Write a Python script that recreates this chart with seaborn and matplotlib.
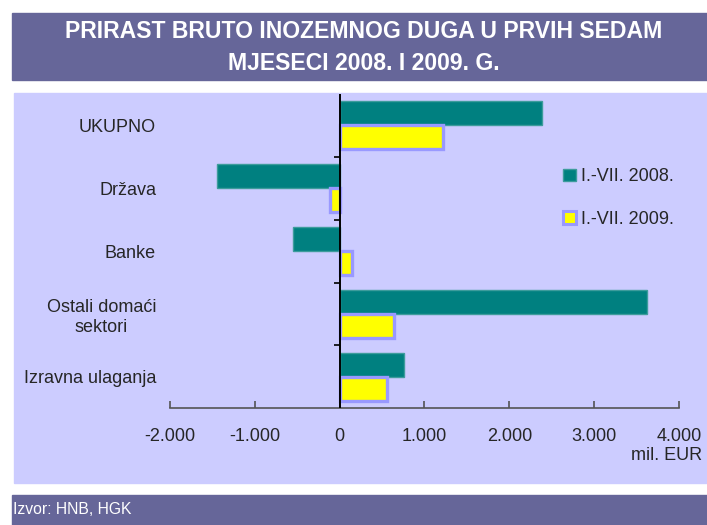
import pandas as pd
import matplotlib
matplotlib.use("Agg")
import matplotlib.pyplot as plt
import seaborn as sns
from matplotlib.patches import Rectangle, Patch

sns.set_style("white")
plt.rcParams['font.family'] = ['Liberation Sans', 'DejaVu Sans']

# Data (mil. EUR)
categories = ['UKUPNO', 'Država', 'Banke', 'Ostali domaći\nsektori', 'Izravna ulaganja']
series = ['I.-VII. 2008.', 'I.-VII. 2009.']
values_2008 = [2390, -1450, -545, 3620, 760]
values_2009 = [1220, -110, 145, 645, 560]
x_ticks = [-2000, -1000, 0, 1000, 2000, 3000, 4000]
x_tick_labels = ['-2.000', '-1.000', '0', '1.000', '2.000', '3.000', '4.000']

df = pd.DataFrame({
    'kategorija': categories * 2,
    'period': [series[0]] * len(categories) + [series[1]] * len(categories),
    'vrijednost': values_2008 + values_2009,
})

teal = '#008080'
yellow = '#FFFF00'
panel = '#CCCCFF'
band = '#666699'

fig = plt.figure(figsize=(7.07, 5.25), dpi=100)
fig.patch.set_facecolor('white')

# background bands (behind the axes)
fig.patches.append(Rectangle((12 / 707, 1 - 80 / 525), 1, 67 / 525,
                             transform=fig.transFigure, color=band, zorder=-2))
fig.patches.append(Rectangle((14 / 707, 1 - 483 / 525), 1, 390 / 525,
                             transform=fig.transFigure, color=panel, zorder=-2))
fig.patches.append(Rectangle((12 / 707, 0), 1, 30 / 525,
                             transform=fig.transFigure, color=band, zorder=-2))

fig.text(364 / 707, 1 - 31 / 525, 'PRIRAST BRUTO INOZEMNOG DUGA U PRVIH SEDAM',
         ha='center', va='center', color='white', fontsize=16.6, fontweight='bold')
fig.text(364 / 707, 1 - 63 / 525, 'MJESECI 2008. I 2009. G.',
         ha='center', va='center', color='white', fontsize=16.6, fontweight='bold')
fig.text(13 / 707, 1 - 510 / 525, 'Izvor: HNB, HGK',
         ha='left', va='center', color='white', fontsize=11.3)

ax = fig.add_axes([170 / 707, 1 - 408.3 / 525, 509 / 707, 314.5 / 525])
ax.set_facecolor('none')
ax.set_zorder(2)

sns.barplot(data=df, y='kategorija', x='vrijednost', hue='period',
            order=categories, hue_order=series, orient='h',
            palette=[teal, yellow], width=0.76, saturation=1,
            ax=ax, legend=False, zorder=3)

edge_cols = ['#3d9c9c', '#9999FF']
edge_w = [1.0, 2.4]
for cont, ec, lw in zip(ax.containers, edge_cols, edge_w):
    for bar in cont:
        bar.set_edgecolor(ec)
        bar.set_linewidth(lw)

ax.set_xlim(-2000, 4000)
ax.set_ylim(len(categories) - 0.5, -0.5)
ax.set_xticks(x_ticks)
ax.set_xticklabels(x_tick_labels)
ax.set_xlabel('')
ax.set_ylabel('')

for side in ['top', 'right', 'left']:
    ax.spines[side].set_visible(False)
ax.spines['bottom'].set_color('#555555')
ax.spines['bottom'].set_linewidth(1.2)
ax.tick_params(axis='x', direction='in', length=5, width=1.2, color='#555555',
               labelsize=13, pad=14, bottom=True)
ax.tick_params(axis='y', length=0, labelsize=13, pad=10)
for lab in ax.get_yticklabels():
    lab.set_multialignment('center')

# zero axis with category boundary ticks
ax.axvline(0, color='black', linewidth=1.4, zorder=4)
bounds = [i + 0.5 for i in range(len(categories) - 1)]
ax.hlines(bounds, -70, 0, color='black', linewidth=1.2, zorder=2)

fig.text(702 / 707, 1 - 455 / 525, 'mil. EUR', ha='right', va='center', fontsize=13)

handles = [Patch(facecolor=teal, edgecolor='#3d9c9c', linewidth=1.0),
           Patch(facecolor=yellow, edgecolor='#9999FF', linewidth=2.2)]
fig.legend(handles, series, loc='center left',
           bbox_to_anchor=(547 / 707, 1 - 198 / 525), frameon=False,
           fontsize=13, handlelength=0.7, handleheight=0.7, handletextpad=0.3,
           labelspacing=1.4)

fig.savefig('out.png', dpi=100, facecolor=fig.get_facecolor())
